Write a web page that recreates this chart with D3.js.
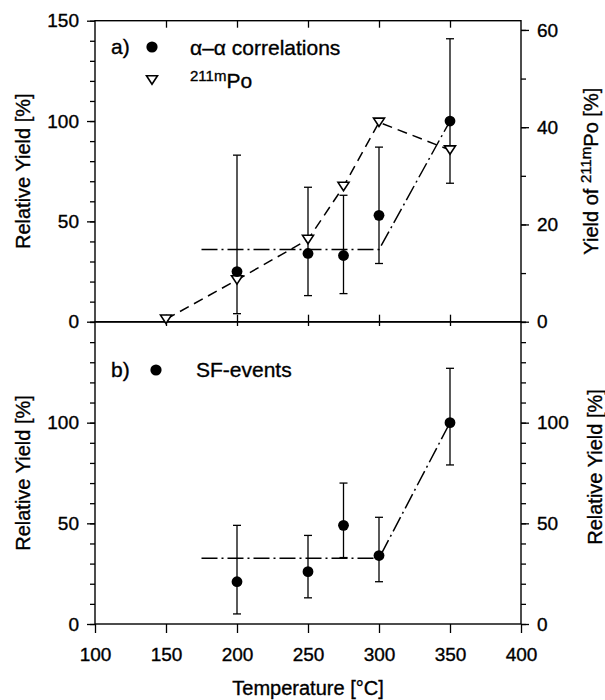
<!DOCTYPE html>
<html>
<head>
<meta charset="utf-8">
<script src="https://cdn.jsdelivr.net/npm/d3@7"></script>
<style>
  body { margin: 0; background: #fff; }
  svg { display: block; font-family: "Liberation Sans", Arial, Helvetica, sans-serif; }
  svg text { stroke: #000; stroke-width: 0.35px; }
</style>
</head>
<body>
<div id="vis"></div>
<script>
// values
const temps = [200, 250, 275, 300, 350];
const aaYield = [25, 34, 33, 53, 100];
const aaLow = [4, 13, 14, 29, 69];
const aaHigh = [83, 67, 63, 87, 141];

const poTemps = [150, 200, 250, 275, 300, 350];
const poYield = [0.5, 8.6, 16.9, 27.8, 41.0, 35.3];

const sfYield = [21, 26, 49, 34, 100];
const sfLow = [5, 13, 33, 21, 79];
const sfHigh = [49, 44, 70, 53, 127];

const fitTemps = [175, 300, 350];
const fitTopYield = [36, 36, 100];
const fitBotYield = [32.6, 32.6, 100];

const xTicks = [100, 150, 200, 250, 300, 350, 400];
const leftTopTicks = [0, 50, 100, 150];
const leftBotTicks = [0, 50, 100];
const rightTopTicks = [0, 20, 40, 60];

const width = 605, height = 700;
const font = 19;

const svg = d3.select("#vis").append("svg")
  .attr("width", width)
  .attr("height", height);

const x = d3.scaleLinear().domain([100, 400]).range([95, 521]);
const yTop = d3.scaleLinear().domain([0, 150]).range([321.7, 20.7]);
const yTopR = d3.scaleLinear().domain([0, 61.9]).range([321.7, 20.7]);
const yBot = d3.scaleLinear().domain([0, 150]).range([624, 322]);

function styleAxis(g) {
  g.select(".domain").remove();
  g.selectAll("line").attr("stroke", "#000").attr("stroke-width", 1.3);
  g.selectAll("text").attr("font-size", font).attr("fill", "#000")
    .attr("font-family", "Liberation Sans, Arial, sans-serif");
}

function yAxes(scale, gen, xpos, major, minorMax) {
  svg.append("g").attr("transform", `translate(${xpos},0)`)
    .call(gen(scale).tickValues(d3.range(0, minorMax + 1, 10)).tickSize(5).tickFormat(""))
    .call(styleAxis);
  svg.append("g").attr("transform", `translate(${xpos},0)`)
    .call(gen(scale).tickValues(major).tickSize(8).tickPadding(8).tickFormat(d3.format("d")))
    .call(styleAxis);
}

yAxes(yTop, d3.axisLeft, x(100), leftTopTicks, 150);
yAxes(yTopR, d3.axisRight, x(400), rightTopTicks, 60);
yAxes(yBot, d3.axisLeft, x(100), leftBotTicks, 150);
yAxes(yBot, d3.axisRight, x(400), leftBotTicks, 150);

// x ticks
const innerX = xTicks.slice(1, -1);
svg.append("g").attr("transform", `translate(0,${yTop(150)})`)
  .call(d3.axisBottom(x).tickValues(innerX).tickSize(7).tickFormat(""))
  .call(styleAxis);
svg.append("g").attr("transform", `translate(0,${yTop(0)})`)
  .call(d3.axisTop(x).tickValues(innerX).tickSize(7).tickFormat(""))
  .call(styleAxis);
svg.append("g").attr("transform", `translate(0,${yBot(150)})`)
  .call(d3.axisBottom(x).tickValues(innerX).tickSize(4).tickFormat(""))
  .call(styleAxis);
svg.append("g").attr("transform", `translate(0,${yBot(0)})`)
  .call(d3.axisBottom(x).tickValues(xTicks).tickSize(9).tickPadding(15).tickFormat(d3.format("d")))
  .call(styleAxis);

// frames
svg.append("rect")
  .attr("x", x(100)).attr("y", yTop(150))
  .attr("width", x(400) - x(100)).attr("height", yTop(0) - yTop(150))
  .attr("fill", "none").attr("stroke", "#000").attr("stroke-width", 1.4);
svg.append("rect")
  .attr("x", x(100)).attr("y", yBot(150))
  .attr("width", x(400) - x(100)).attr("height", yBot(0) - yBot(150))
  .attr("fill", "none").attr("stroke", "#000").attr("stroke-width", 1.4);

// lines
const dashDot = "16,4,2,4";
svg.append("path")
  .attr("d", d3.line().x((d, i) => x(fitTemps[i])).y(d => yTop(d))(fitTopYield))
  .attr("fill", "none").attr("stroke", "#000").attr("stroke-width", 1.5)
  .attr("stroke-dasharray", dashDot);
svg.append("path")
  .attr("d", d3.line().x((d, i) => x(poTemps[i])).y(d => yTopR(d))(poYield))
  .attr("fill", "none").attr("stroke", "#000").attr("stroke-width", 1.5)
  .attr("stroke-dasharray", "10,6");
svg.append("path")
  .attr("d", d3.line().x((d, i) => x(fitTemps[i])).y(d => yBot(d))(fitBotYield))
  .attr("fill", "none").attr("stroke", "#000").attr("stroke-width", 1.5)
  .attr("stroke-dasharray", dashDot);

// error bars
function errorBars(yScale, low, high) {
  const g = svg.append("g").attr("stroke", "#000").attr("stroke-width", 1.3);
  temps.forEach((t, i) => {
    g.append("line").attr("x1", x(t)).attr("x2", x(t))
      .attr("y1", yScale(low[i])).attr("y2", yScale(high[i]));
    [low[i], high[i]].forEach(v => {
      g.append("line").attr("x1", x(t) - 4).attr("x2", x(t) + 4)
        .attr("y1", yScale(v)).attr("y2", yScale(v));
    });
  });
}
errorBars(yTop, aaLow, aaHigh);
errorBars(yBot, sfLow, sfHigh);

const tri = "M-5.5,-4.2L5.5,-4.2L0,4.2Z";

svg.append("g").selectAll("path")
  .data(poYield)
  .join("path")
  .attr("d", tri)
  .attr("transform", (d, i) => `translate(${x(poTemps[i])},${yTopR(d)})`)
  .attr("fill", "#fff").attr("stroke", "#000").attr("stroke-width", 1.6);

svg.append("g").selectAll("circle")
  .data(aaYield)
  .join("circle")
  .attr("cx", (d, i) => x(temps[i]))
  .attr("cy", d => yTop(d))
  .attr("r", 5.4);

svg.append("g").selectAll("circle")
  .data(sfYield)
  .join("circle")
  .attr("cx", (d, i) => x(temps[i]))
  .attr("cy", d => yBot(d))
  .attr("r", 5.4);

// legends
svg.append("text").attr("x", 111).attr("y", 54).attr("font-size", 21).text("a)");
svg.append("circle").attr("cx", 152).attr("cy", 47).attr("r", 5.6);
svg.append("text").attr("x", 190).attr("y", 55).attr("font-size", 21).text("α–α correlations");
svg.append("path").attr("d", tri).attr("transform", "translate(152,80)")
  .attr("fill", "#fff").attr("stroke", "#000").attr("stroke-width", 1.6);
const po = svg.append("text").attr("x", 190).attr("y", 88).attr("font-size", 21);
po.append("tspan").attr("font-size", 15).attr("dy", -7).text("211m");
po.append("tspan").attr("dy", 7).text("Po");

svg.append("text").attr("x", 111).attr("y", 377).attr("font-size", 21).text("b)");
svg.append("circle").attr("cx", 156).attr("cy", 370).attr("r", 5.6);
svg.append("text").attr("x", 196).attr("y", 377).attr("font-size", 21).text("SF-events");

// axis titles
svg.append("text").attr("transform", `translate(30,${(yTop(0) + yTop(150)) / 2}) rotate(-90)`)
  .attr("text-anchor", "middle").attr("font-size", 20).text("Relative Yield [%]");
svg.append("text").attr("transform", `translate(30,${(yBot(0) + yBot(150)) / 2}) rotate(-90)`)
  .attr("text-anchor", "middle").attr("font-size", 20).text("Relative Yield [%]");
svg.append("text").attr("transform", `translate(602,${(yBot(0) + yBot(150)) / 2 - 6}) rotate(-90)`)
  .attr("text-anchor", "middle").attr("font-size", 20).text("Relative Yield [%]");

const rt = svg.append("text").attr("transform", `translate(598,${(yTop(0) + yTop(150)) / 2}) rotate(-90)`)
  .attr("text-anchor", "middle").attr("font-size", 20);
rt.append("tspan").text("Yield of ");
rt.append("tspan").attr("font-size", 15).attr("dy", -7).text("211m");
rt.append("tspan").attr("dy", 7).text("Po [%]");

svg.append("text").attr("x", (x(100) + x(400)) / 2).attr("y", 695)
  .attr("text-anchor", "middle").attr("font-size", 20).text("Temperature [°C]");
</script>
</body>
</html>
